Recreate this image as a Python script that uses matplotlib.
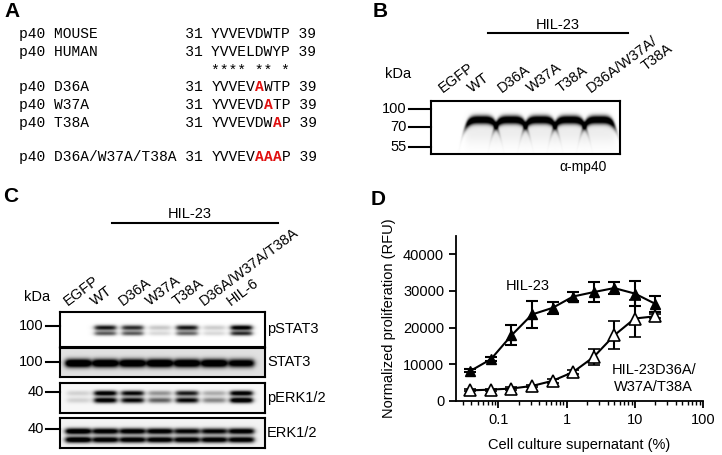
import matplotlib
matplotlib.use("Agg")
import matplotlib.pyplot as plt
import numpy as np
from matplotlib.lines import Line2D

plt.rcParams['font.family'] = ['Liberation Sans', 'DejaVu Sans']

W, H = 722, 455

# ---- panel A: alignment ----
align_names = ["p40 MOUSE", "p40 HUMAN", "", "p40 D36A", "p40 W37A", "p40 T38A", "", "p40 D36A/W37A/T38A"]
align_seqs = ["YVVEVDWTP", "YVVELDWYP", "**** ** *", "YVVEVAWTP", "YVVEVDATP", "YVVEVDWAP", "", "YVVEVAAAP"]
mutated = [[], [], [], [5], [6], [7], [], [5, 6, 7]]

# ---- panel B: anti-mp40 blot ----
b_lanes = ["EGFP", "WT", "D36A", "W37A", "T38A"]
b_band = [0.0, 1.3, 1.3, 1.3, 1.3, 1.3]
b_marks = ["100", "70", "55"]

# ---- panel C: signalling blots ----
c_lanes = ["EGFP", "WT", "D36A", "W37A", "T38A", "D36A/W37A/T38A", "HIL-6"]
pstat3_up = [0.0, 0.95, 0.85, 0.22, 0.95, 0.2, 1.1]
pstat3_lo = [0.0, 0.65, 0.65, 0.15, 0.6, 0.15, 0.85]
stat3 = [1.3, 1.25, 1.25, 1.3, 1.25, 1.25, 1.1]
perk_up = [0.15, 1.1, 1.0, 0.4, 0.9, 0.3, 1.1]
perk_lo = [0.15, 1.1, 1.0, 0.6, 1.0, 0.45, 1.2]
erk_up = [1.2, 1.1, 1.1, 1.1, 1.0, 1.0, 1.1]
erk_lo = [1.2, 1.1, 1.1, 1.1, 1.1, 1.1, 1.1]
c_rows = ["pSTAT3", "STAT3", "pERK1/2", "ERK1/2"]
c_marks = ["100", "100", "40", "40"]

# ---- panel D: proliferation ----
conc = [0.039, 0.078, 0.156, 0.3125, 0.625, 1.25, 2.5, 5, 10, 20]
wt_mean = [8200, 11400, 17900, 23600, 25400, 28500, 29700, 30800, 29300, 26500]
wt_err = [400, 500, 2700, 3600, 1600, 1100, 2800, 1700, 3500, 2200]
mut_mean = [2900, 3100, 3400, 4100, 5500, 7900, 12000, 17900, 22500, 23100]
mut_err = [300, 300, 300, 400, 500, 600, 2300, 3800, 5000, 500]

fig = plt.figure(figsize=(W / 100, H / 100), dpi=100)


def fx(x):
    return x / W


def fy(y):
    return 1 - y / H


def ftext(x, y, s, **kw):
    fig.text(fx(x), fy(y), s, **kw)


def fline(x0, x1, y0, y1, lw=1.5):
    fig.add_artist(Line2D([fx(x0), fx(x1)], [fy(y0), fy(y1)],
                          transform=fig.transFigure, color='black', lw=lw))


def px_axes(x0, y0, x1, y1):
    return fig.add_axes([fx(x0), fy(y1), (x1 - x0) / W, (y1 - y0) / H])


def blot(x0, y0, x1, y1, lane_x, bands, halfw, bg=0.0, curve=0.0, smear=None):
    w, h = int(x1 - x0), int(y1 - y0)
    yy, xx = np.mgrid[0:h * 2, 0:w * 2] / 2.0
    dark = np.full(yy.shape, bg)
    for i, lx in enumerate(lane_x):
        lx = lx - x0
        prof = 1 / (1 + np.exp((np.abs(xx - lx) - halfw) / 1.5))
        for by, sig, vals in bands:
            yc = by + curve * ((xx - lx) / halfw) ** 4
            dark += vals[i] * prof * np.exp(-0.5 * ((yy - yc) / sig) ** 2)
        if smear is not None and vals[i] > 0:
            dark += smear[2] * prof * np.exp(-0.5 * ((yy - smear[0]) / smear[1]) ** 2)
    img = 1 - np.clip(dark, 0, 1)
    ax = px_axes(x0, y0, x1, y1)
    ax.imshow(img, cmap='gray', vmin=0, vmax=1, extent=(0, w, h, 0),
              aspect='auto', interpolation='bilinear')
    ax.set_xticks([])
    ax.set_yticks([])
    for s in ax.spines.values():
        s.set_linewidth(1.5)
    return ax


# ---------- A ----------
ftext(4, 2, "A", fontsize=15, fontweight='bold', va='top')
row_y = [34, 52, 71, 87, 105, 123, 140, 157]
mono = 'Liberation Mono'
mono_fs = 10.5
cw = 0.6 * mono_fs * 100 / 72  # monospace advance in px


def mono_run(col, y, s, **kw):
    ftext(19 + col * cw, y, s, family=mono, fontsize=mono_fs, va='center', **kw)


for name, seq, mut, y in zip(align_names, align_seqs, mutated, row_y):
    if seq == "":
        continue
    if seq[0] == '*':
        mono_run(22, y, seq)
        continue
    mono_run(0, y, f"{name:<18} 31")
    col = 22
    start = 0
    for m in mut:
        if m > start:
            mono_run(col + start, y, seq[start:m])
        mono_run(col + m, y, seq[m], color='#e01010', fontweight='bold')
        start = m + 1
    mono_run(col + start, y, seq[start:] + " 39")

# ---------- B ----------
ftext(373, 2, "B", fontsize=15, fontweight='bold', va='top')
ftext(558, 25, "HIL-23", fontsize=10.5, ha='center', va='center')
fline(488, 628, 33, 33)
ftext(398, 74, "kDa", fontsize=10.5, ha='center', va='center')
b_x = [451.5 + 29.5 * k for k in range(6)]
for lab, lx in zip(b_lanes, b_x):
    fig.text(fx(lx - 9), fy(93), lab, fontsize=10.5, rotation=37,
             rotation_mode='anchor', ha='left', va='baseline')
fig.text(fx(591), fy(93), "D36A/W37A/", fontsize=10.5, rotation=37,
         rotation_mode='anchor', ha='left', va='baseline')
fig.text(fx(646), fy(71), "T38A", fontsize=10.5, rotation=37,
         rotation_mode='anchor', ha='left', va='baseline')
blot(431, 101, 620, 154, b_x, [(18.5, 3.0, b_band)], 15.5, curve=7,
     smear=(30, 9, 0.07))
for lab, y in zip(b_marks, [109, 127, 147]):
    fline(409, 431, y, y)
    ftext(407, y, lab, fontsize=10.5, ha='right', va='center')
ftext(583, 167, "α-mp40", fontsize=10, ha='center', va='center')

# ---------- C ----------
ftext(3, 187, "C", fontsize=15, fontweight='bold', va='top')
ftext(190, 214, "HIL-23", fontsize=10.5, ha='center', va='center')
fline(112, 278, 223, 223)
ftext(37, 297, "kDa", fontsize=10.5, ha='center', va='center')
c_x = [78 + 27.2 * k for k in range(7)]
for lab, lx in zip(c_lanes, c_x):
    fig.text(fx(lx - 10), fy(306), lab, fontsize=10.5, rotation=37,
             rotation_mode='anchor', ha='left', va='baseline')

boxes = [(312, 347), (348, 377), (383, 413), (418, 448)]
band_sets = [
    [(16, 1.8, pstat3_up), (21.5, 1.6, pstat3_lo)],
    [(15, 3.0, stat3)],
    [(10, 1.9, perk_up), (17, 2.0, perk_lo)],
    [(13, 2.2, erk_up), (21.5, 2.2, erk_lo)],
]
bgs = [0.0, 0.12, 0.03, 0.05]
hws = [10.5, 12.5, 11, 12.5]
mark_y = [326, 362, 392, 429]
for (y0, y1), bs, bg, hw, row, mk, my in zip(boxes, band_sets, bgs, hws, c_rows, c_marks, mark_y):
    blot(60, y0, 265, y1, c_x, bs, hw, bg=bg)
    ftext(267, (y0 + y1) / 2, row, fontsize=10.5, ha='left', va='center')
    fline(46, 60, my, my)
    ftext(44, my, mk, fontsize=10.5, ha='right', va='center')

# ---------- D ----------
ftext(371, 190, "D", fontsize=15, fontweight='bold', va='top')
ax = px_axes(456, 236, 703, 401)
ax.errorbar(conc, wt_mean, yerr=wt_err, color='black', marker='^', ms=7,
            mfc='black', mec='black', lw=1.5, capsize=4, capthick=1.5, elinewidth=1.5)
ax.errorbar(conc, mut_mean, yerr=mut_err, color='black', marker='^', ms=8,
            mfc='white', mec='black', mew=1.2, lw=1.5, capsize=4, capthick=1.5, elinewidth=1.5)
ax.set_xscale('log')
ax.set_xlim(0.024, 100)
ax.set_ylim(0, 45000)
ax.set_yticks([0, 10000, 20000, 30000, 40000])
ax.set_xticks([0.1, 1, 10, 100])
ax.set_xticklabels(["0.1", "1", "10", "100"])
for s in ['top', 'right']:
    ax.spines[s].set_visible(False)
for s in ['left', 'bottom']:
    ax.spines[s].set_linewidth(1.3)
ax.tick_params(labelsize=10.5, width=1.3, length=5)
ax.tick_params(which='minor', width=1.0, length=3)
ax.set_xlabel("Cell culture supernatant (%)", fontsize=10.5, labelpad=8)
ax.set_ylabel("Normalized proliferation (RFU)", fontsize=10.5, labelpad=5)
ax.text(0.27, 31500, "HIL-23", fontsize=10.5, ha='center', va='center')
ax.text(19, 6200, "HIL-23D36A/\nW37A/T38A", fontsize=10.5, ha='center', va='center',
        linespacing=1.3)

fig.savefig("out.png", dpi=100)
